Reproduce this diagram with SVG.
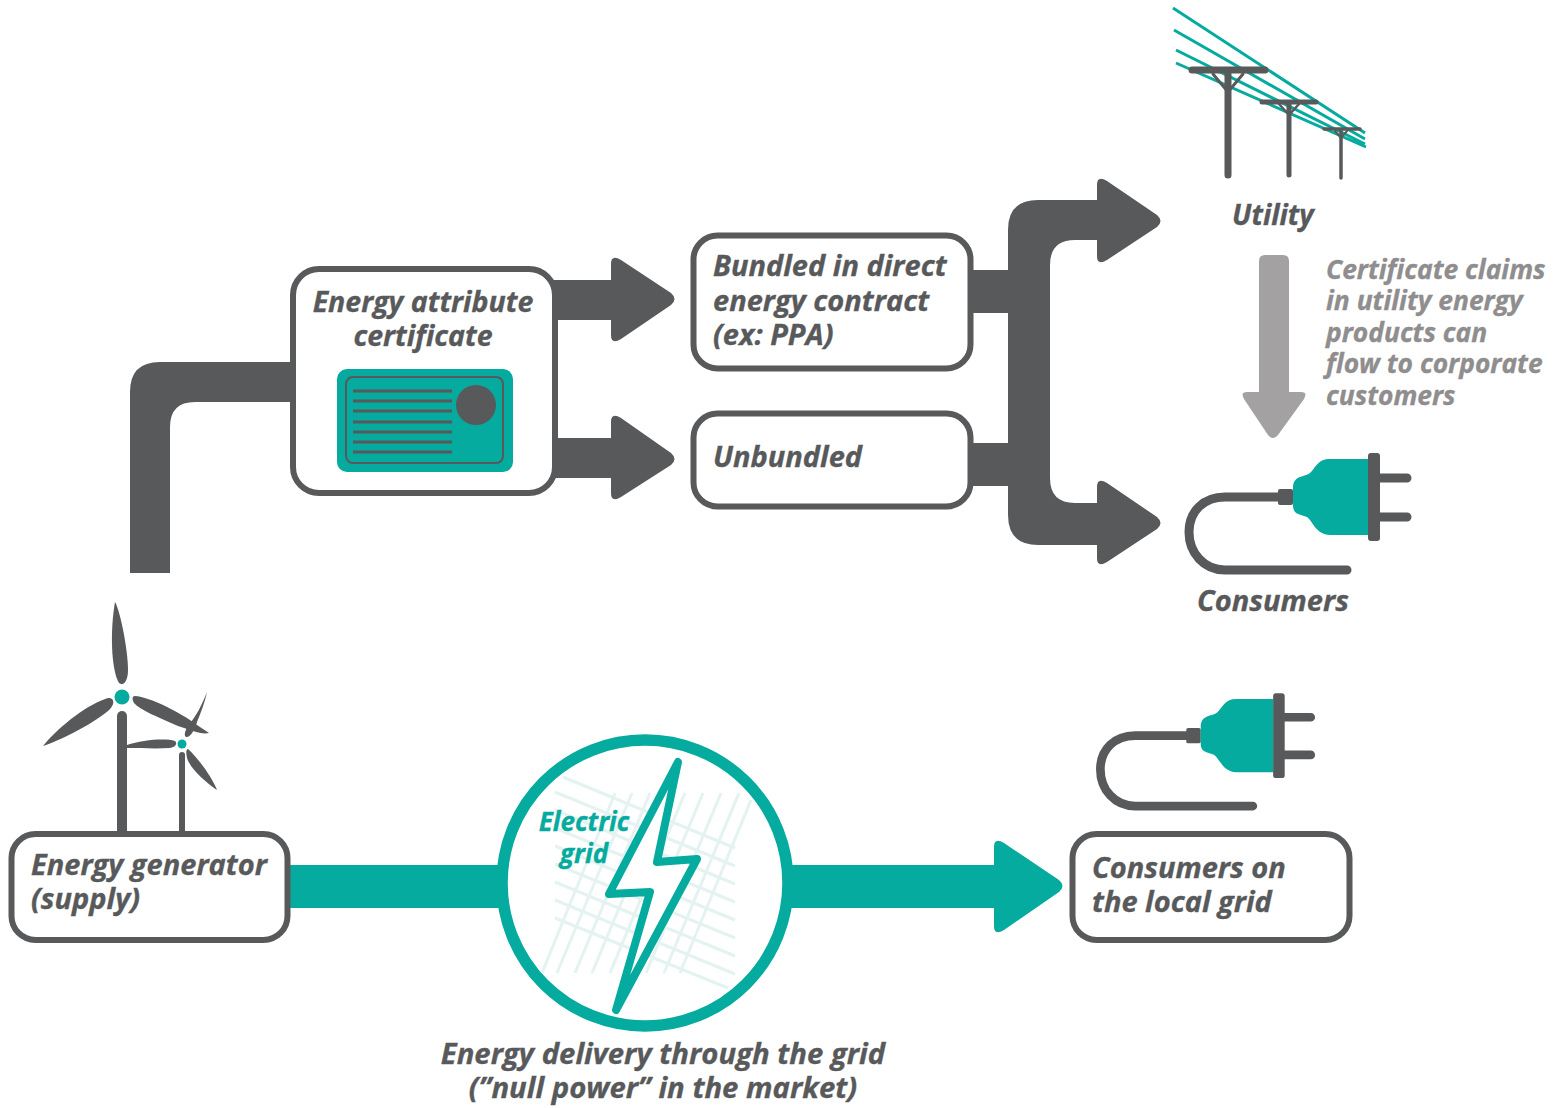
<svg xmlns="http://www.w3.org/2000/svg" xmlns:xlink="http://www.w3.org/1999/xlink" width="1566" height="1108" viewBox="0 0 1566 1108">
<style>
text{font-family:"Open Sans","Noto Sans",sans-serif;font-weight:700;font-style:italic;font-size:29px;fill:#58595b;stroke:#58595b;stroke-width:.35}
text.c{font-size:26.4px;fill:#8f8d8e;stroke:#8f8d8e}
text.t{font-size:26px;fill:#06ab9f;stroke:#06ab9f}
.teal{fill:#06ab9f}.gray{fill:#58595b}
.box{fill:#fff;stroke:#58595b;stroke-width:6}
.w{fill:none;stroke:#06ab9f;stroke-width:3}
.p{fill:none;stroke:#58595b;stroke-linecap:round}
.g{stroke:#e4f3f1;stroke-width:3;fill:none}
</style>
<defs>
<g id="plug">
<path d="M1347 570H1225C1204 570 1189 553 1189 532C1189 511 1204 497 1225 497H1285" fill="none" stroke="#58595b" stroke-width="9" stroke-linecap="round"/>
<rect x="1278" y="489" width="15" height="16" rx="2" class="gray"/>
<path d="M1368 459H1330C1318 459 1316 467 1311 472C1306 478 1293 474 1293 488V505C1293 515 1300 514 1307 517C1312 520 1316 535 1330 535H1368Z" class="teal"/>
<rect x="1368" y="453" width="12" height="88" rx="3" class="gray"/>
<path d="M1380 478H1407M1380 517H1407" class="p" stroke-width="9"/>
</g>
</defs>
<g id="connectors">
<path class="gray" d="M130 573V392Q130 362 160 362H295V402H195Q170 402 170 427V573Z"/>
<path class="gray" d="M553 280H611V264Q611 254 621 260L671 293Q678 299 671 305L621 339Q611 345 611 335V320H553Z"/>
<path class="gray" d="M553 438H611V422Q611 412 621 418L671 453Q678 459 671 465L621 497Q611 503 611 493V478H553Z"/>
<path class="gray" d="M970 270H1008V230Q1008 200 1038 200H1097V185Q1097 175 1107 181L1157 215Q1164 221 1157 227L1107 260Q1097 266 1097 256V240H1075Q1050 240 1050 265V478Q1050 503 1075 503H1097V487Q1097 477 1107 483L1157 517Q1164 523 1157 529L1107 562Q1097 568 1097 558V545H1038Q1008 545 1008 515V486H970V443H1008V313H970Z"/>
<path class="teal" d="M287 865H502V908H287Z"/>
<path class="teal" d="M788 865H994V847Q994 837 1004 843L1059 880Q1066 886 1059 892L1004 930Q994 936 994 926V908H788Z"/>
<path fill="#a3a1a2" d="M1259 261Q1259 255 1265 255H1283Q1289 255 1289 261V392H1301Q1308 392 1304 399L1278 435Q1273 441 1268 435L1244 399Q1240 392 1247 392H1259Z"/>
</g>
<g id="utility">
<path class="w" d="M1173 8L1365 133M1174 30L1365 139M1176 50L1365 144M1176 63L1366 147"/>
<path class="p" stroke-width="7" d="M1192 70H1265"/>
<path class="p" stroke-width="7" d="M1228 74V175"/>
<path class="p" stroke-width="3" d="M1213 74L1228 92L1243 74"/>
<path class="p" stroke-width="5" d="M1262 102H1316"/>
<path class="p" stroke-width="5" d="M1289 104V175"/>
<path class="p" stroke-width="2.5" d="M1279 104L1289 115L1299 104"/>
<path class="p" stroke-width="3.5" d="M1324 129H1360"/>
<path class="p" stroke-width="3.5" d="M1341 131V178"/>
<path class="p" stroke-width="2" d="M1335 131L1341 138L1347 131"/>
<text x="1273" y="225" text-anchor="middle" style="font-size:28px">Utility</text>
</g>
<g id="claims">
<text class="c" x="1326" y="279">Certificate claims</text>
<text class="c" x="1326" y="310">in utility energy</text>
<text class="c" x="1326" y="342">products can</text>
<text class="c" x="1326" y="373">flow to corporate</text>
<text class="c" x="1326" y="405">customers</text>
</g>
<g id="certificate">
<rect class="box" x="293" y="269" width="262" height="224" rx="26"/>
<text x="423" y="312" text-anchor="middle" style="font-size:28.5px">Energy attribute</text>
<text x="423" y="346" text-anchor="middle" style="font-size:28.5px">certificate</text>
<rect x="337" y="369" width="176" height="103" rx="10" class="teal"/>
<rect x="346" y="377" width="157" height="86" rx="7" fill="none" stroke="#58595b" stroke-width="2"/>
<path stroke="#58595b" stroke-width="3" d="M353 391H452M353 401H452M353 411H452M353 422H452M353 432H452M353 442H452M353 452H452"/>
<circle cx="476" cy="405" r="20" class="gray"/>
</g>
<g id="bundled">
<rect class="box" x="693.500" y="235.500" width="277" height="133" rx="24"/>
<text x="713" y="276">Bundled in direct</text>
<text x="713" y="311">energy contract</text>
<text x="713" y="345">(ex: PPA)</text>
</g>
<g id="unbundled">
<rect class="box" x="693.500" y="413.500" width="277" height="93" rx="24"/>
<text x="713" y="467">Unbundled</text>
</g>
<g id="consumers">
<use xlink:href="#plug" href="#plug"/>
<text x="1273" y="611" text-anchor="middle">Consumers</text>
</g>
<g id="turbines">
<path class="gray" d="M115 602C110 630 111 670 119 683C124 687 128 680 128 670C128 650 120 610 115 602Z"/>
<path class="gray" d="M43 746C60 725 90 703 108 698C116 698 114 706 108 711C90 726 58 741 43 746Z"/>
<path class="gray" d="M135 696C150 697 180 712 197 725L209 733C202 735 190 730 178 726C160 718 140 710 134 703C132 699 132 696 135 696Z"/>
<path class="gray" d="M207 692C202 705 196 716 191 722C186 728 183 735 186 737C190 738 195 730 197 722C200 715 205 702 207 692Z"/>
<path class="gray" d="M127 745C142 740 165 738 175 741C178 744 175 747 170 748C155 749 140 748 127 748Z"/>
<path class="gray" d="M188 749C198 758 212 777 217 790C205 782 190 768 187 758C186 753 186 749 188 749Z"/>
<circle cx="122" cy="697" r="7.500" class="teal"/>
<circle cx="182" cy="744" r="4.500" class="teal"/>
<path class="p" stroke-width="10" d="M122 716V835" stroke-linecap="butt"/>
<path class="p" stroke-width="6" d="M182 755V835"/>
</g>
<g id="generator">
<rect class="box" x="11.500" y="834" width="276" height="106" rx="24"/>
<text x="31" y="875">Energy generator</text>
<text x="31" y="909">(supply)</text>
</g>
<g id="grid">
<circle cx="645" cy="883" r="143" fill="#fff" stroke="#06ab9f" stroke-width="11.500"/>
<path class="g" d="M563 777L735 848M555 792L735 866M555 810L735 884M555 828L735 902M555 846L735 920M555 864L735 938M555 882L735 956M555 900L735 974M555 918L728 988"/>
<path class="g" d="M615 793L542 973M632 793L557 973M650 793L575 973M667 793L592 973M685 793L610 973M703 793L628 973M721 793L646 973M739 793L664 973M751 800L680 973"/>
<path fill="#fff" stroke="#06ab9f" stroke-width="8" stroke-linejoin="round" d="M678 762L657 862L697 859L616 1010L650 892L609 894Z"/>
<text class="t" x="584" y="831" text-anchor="middle">Electric</text>
<text class="t" x="584" y="863" text-anchor="middle">grid</text>
<text x="663" y="1064" text-anchor="middle" style="font-size:29.3px">Energy delivery through the grid</text>
<text x="663" y="1098" text-anchor="middle" style="font-size:29.3px">(”null power” in the market)</text>
</g>
<g id="local">
<use xlink:href="#plug" href="#plug" transform="translate(-47 256) scale(.965)"/>
<rect class="box" x="1072.500" y="834" width="277" height="106" rx="24"/>
<text x="1092" y="878">Consumers on</text>
<text x="1092" y="912">the local grid</text>
</g>
</svg>
